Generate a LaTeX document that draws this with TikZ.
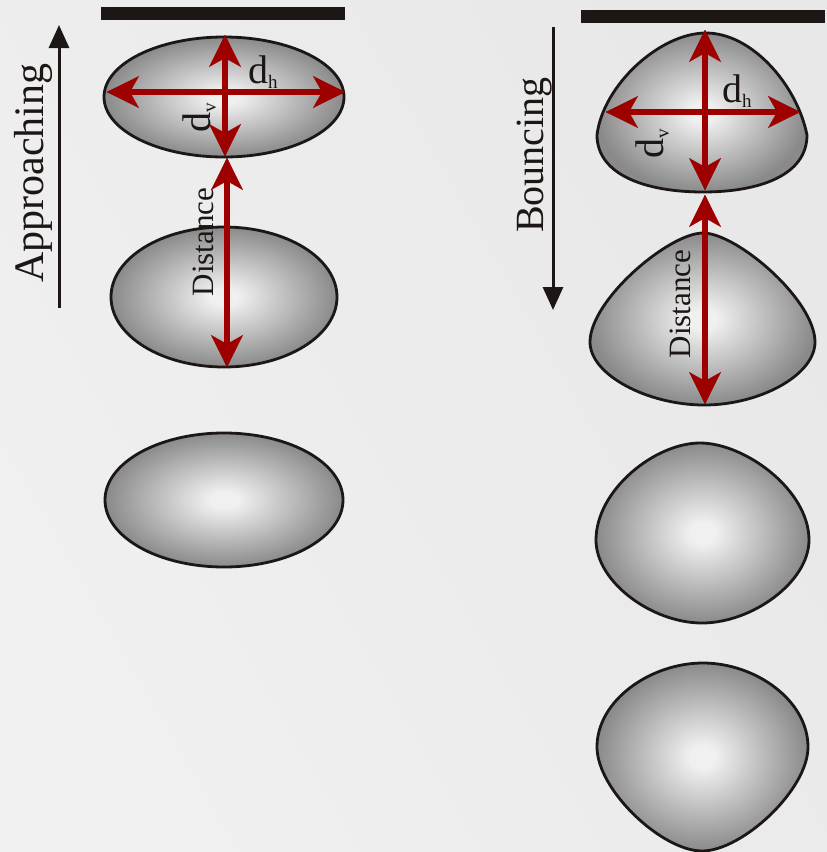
\documentclass[tikz,border=0pt]{standalone}
\usepackage{fontspec}
\setmainfont{Liberation Serif}
\usetikzlibrary{arrows.meta}
\definecolor{bgc}{RGB}{240,240,240}
\definecolor{bgd}{RGB}{232,232,232}
\definecolor{barc}{RGB}{28,22,20}
\definecolor{outl}{RGB}{28,22,20}
\definecolor{arrred}{RGB}{158,0,0}
\definecolor{dropin}{RGB}{240,240,240}
\definecolor{dropout}{RGB}{138,138,138}
\pgfdeclareradialshading{dropshade}{\pgfpointorigin}{color(0bp)=(dropin); color(3bp)=(dropin); color(25bp)=(dropout); color(50bp)=(dropout)}
\tikzset{
  drop/.style={draw=outl, line width=2.8pt, shading=dropshade},
  redarr/.style={draw=arrred, line width=6pt,
    {Stealth[length=32pt,width=32pt,inset=9pt,line width=0.1pt]}-{Stealth[length=32pt,width=32pt,inset=9pt,line width=0.1pt]}},
  shadarr/.style={draw=outl, line width=2.2pt, shift={(-3.5,3.5)},
    {Stealth[length=30pt,width=28pt,inset=9pt,line width=0.1pt]}-{Stealth[length=30pt,width=28pt,inset=9pt,line width=0.1pt]}},
  dirarr/.style={draw=outl, line width=3pt, -{Triangle[length=23pt,width=20pt]}},
  bar/.style={fill=barc},
  lbl/.style={inner sep=0pt, text=outl},
}
\newcommand{\dlabel}[1]{{\fontsize{40}{40}\selectfont d}\raisebox{-5.5pt}{\fontsize{19}{19}\selectfont #1}}
\begin{document}
\begin{tikzpicture}[x=1pt,y=-1pt]
\useasboundingbox (0,0) rectangle (827,852);
\shade[left color=bgc, right color=bgd, shading angle=120] (0,0) rectangle (827,852);
% bars
\fill[bar] (101,7) rectangle (345,20);
\fill[bar] (581,10) rectangle (825,23);
% left drops
\path[drop] (224,97) ellipse [x radius=120, y radius=60];
\path[drop] (224,297) ellipse [x radius=113, y radius=70];
\path[drop] (224,500) ellipse [x radius=119, y radius=67];
% right drops
\path[drop] (706,33) .. controls (752,33) and (797,85) .. (807,135)
  .. controls (807,175) and (760,192) .. (703,192)
  .. controls (646,192) and (597,175) .. (597,135)
  .. controls (603,85) and (660,33) .. (706,33) -- cycle;
\path[drop] (703,233) .. controls (737,233) and (815,300) .. (815,342)
  .. controls (815,375) and (760,405) .. (704,405)
  .. controls (648,405) and (590,375) .. (590,342)
  .. controls (590,300) and (669,233) .. (703,233) -- cycle;
\path[drop] (700,443) .. controls (745,443) and (809,490) .. (809,540)
  .. controls (809,582) and (752,623) .. (702,623)
  .. controls (652,623) and (596,582) .. (596,540)
  .. controls (596,490) and (655,443) .. (700,443) -- cycle;
\path[drop] (703,663) .. controls (755,663) and (808,700) .. (808,747)
  .. controls (808,790) and (742,851) .. (702,851)
  .. controls (662,851) and (597,790) .. (597,747)
  .. controls (597,700) and (651,663) .. (703,663) -- cycle;
% arrow end points
\coordinate (h1l) at (107,92);  \coordinate (h1r) at (345,92);
\coordinate (v1t) at (225,35);  \coordinate (v1b) at (225,156);
\coordinate (d1t) at (227,158); \coordinate (d1b) at (227,367);
\coordinate (h2l) at (606,112); \coordinate (h2r) at (800,112);
\coordinate (v2t) at (705,30);  \coordinate (v2b) at (705,190);
\coordinate (d2t) at (705,195); \coordinate (d2b) at (705,404);
\coordinate (ab) at (59,308);   \coordinate (at) at (59,25);
\coordinate (bt) at (553,27);   \coordinate (bb) at (553,310);
% shadows
\draw[shadarr] (h1l) -- (h1r);
\draw[shadarr] (v1t) -- (v1b);
\draw[shadarr] (d1t) -- (d1b);
\draw[shadarr] (h2l) -- (h2r);
\draw[shadarr] (v2t) -- (v2b);
\draw[shadarr] (d2t) -- (d2b);
% red arrows
\draw[redarr] (h1l) -- (h1r);
\draw[redarr] (v1t) -- (v1b);
\draw[redarr] (d1t) -- (d1b);
\draw[redarr] (h2l) -- (h2r);
\draw[redarr] (v2t) -- (v2b);
\draw[redarr] (d2t) -- (d2b);
% direction arrows
\draw[dirarr] (ab) -- (at);
\draw[dirarr] (bt) -- (bb);
% labels
\node[lbl, anchor=base west] (dh1) at (248,83) {\dlabel{h}};
\node[lbl, anchor=base west, rotate=90] (dv1) at (210,133) {\dlabel{v}};
\node[lbl, anchor=base west] (dh2) at (722,102) {\dlabel{h}};
\node[lbl, anchor=base west, rotate=90] (dv2) at (663,159) {\dlabel{v}};
\node[lbl, anchor=base, rotate=90, font=\fontsize{31}{31}\selectfont] (dist1) at (213,242) {Distance};
\node[lbl, anchor=base, rotate=90, font=\fontsize{31}{31}\selectfont] (dist2) at (690,304) {Distance};
\node[lbl, anchor=base, rotate=90, font=\fontsize{42}{42}\selectfont] (appr) at (43,173) {Approaching};
\node[lbl, anchor=base, rotate=90, font=\fontsize{40}{40}\selectfont] (bounc) at (543,155) {Bouncing};
\end{tikzpicture}
\end{document}
